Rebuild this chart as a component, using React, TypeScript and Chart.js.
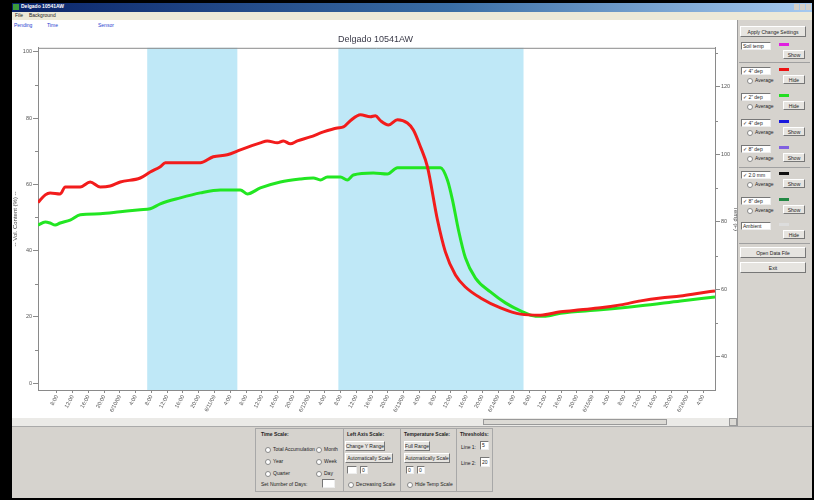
import React, { useEffect, useRef } from "react";
import { Chart, registerables } from "chart.js";
Chart.register(...registerables);
Chart.defaults.font.family = "'Liberation Sans', Arial, sans-serif";

const chartTitle = "Delgado 10541AW";
const leftTitle = "-- Vol. Content (%) --";
const rightTitle = "Temp (F)";

const tickLabels = [
  "8:00", "12:00", "16:00", "20:00", "6/10/09", "4:00", "8:00", "12:00", "16:00", "20:00",
  "6/11/09", "4:00", "8:00", "12:00", "16:00", "20:00", "6/12/09", "4:00", "8:00", "12:00",
  "16:00", "20:00", "6/13/09", "4:00", "8:00", "12:00", "16:00", "20:00", "6/14/09", "4:00",
  "8:00", "12:00", "16:00", "20:00", "6/15/09", "4:00", "8:00", "12:00", "16:00", "20:00",
  "6/16/09", "4:00",
];

const leftTicks = [0, 10, 20, 30, 40, 50, 60, 70, 80, 90, 100];
const rightTicks = [40, 50, 60, 70, 80, 90, 100, 110, 120, 130];

const redX = [-1.2, -0.74, -0.43, 0.21, 0.53, 1.48, 2.11, 2.75, 3.38, 4.02, 5.29, 5.92, 6.56, 6.88, 9.1, 9.92, 10.81, 11.64, 12.91, 13.35, 13.99, 14.37, 14.81, 15.26, 16.08, 16.91, 17.8, 18.18, 18.62, 19.26, 19.89, 20.21, 20.53, 21.04, 21.61, 22.24, 22.62, 23.07, 23.51, 24.15, 24.65, 25.29, 25.92, 26.88, 28.15, 29.42, 30.69, 31.96, 33.22, 34.5, 35.77, 37.04, 38.31, 39.58, 40.84, 41.76];
const redY = [54.5, 56.8, 57.4, 57.1, 59.2, 59.2, 60.7, 59.2, 59.5, 60.7, 61.9, 63.7, 65.3, 66.5, 66.5, 68.3, 68.9, 70.4, 72.5, 73.1, 72.5, 73.1, 72.2, 73.1, 74.3, 75.8, 77.0, 77.3, 79.2, 81.0, 80.4, 80.7, 79.2, 77.9, 79.5, 78.5, 76.4, 71.3, 65.3, 49.2, 39.6, 32.6, 29.0, 25.7, 22.7, 20.8, 20.5, 21.5, 22.1, 22.7, 23.6, 24.8, 25.7, 26.3, 27.2, 27.8];

const greenX = [-1.2, -0.74, -0.43, -0.11, 0.21, 0.84, 1.48, 2.75, 4.02, 5.29, 5.92, 6.56, 7.83, 9.1, 10.37, 11.64, 12.08, 12.91, 14.18, 15.45, 16.27, 16.72, 17.16, 17.99, 18.43, 18.81, 20.08, 20.97, 21.61, 22.24, 24.34, 24.78, 25.1, 25.48, 25.92, 26.56, 27.51, 28.46, 29.42, 30.37, 31.0, 31.96, 34.5, 37.04, 39.58, 41.76];
const greenY = [47.7, 48.6, 48.3, 47.7, 48.3, 49.2, 50.8, 51.1, 51.7, 52.3, 52.6, 54.1, 55.9, 57.4, 58.3, 58.3, 57.1, 58.9, 60.7, 61.6, 61.9, 61.3, 62.2, 62.2, 61.3, 62.8, 63.4, 63.1, 65.0, 65.0, 65.0, 61.3, 55.3, 46.2, 37.8, 31.7, 27.5, 24.2, 21.8, 20.2, 20.2, 21.1, 22.1, 23.3, 24.8, 26.0];

const bandStarts = [5.73, 17.86];
const bandEnds = [11.45, 29.61];

const sensorNames = ['4" dep', '2" dep', '4" dep', '8" dep', "2.0 mm", '8" dep', "Ambient"];
const sensorColors = ["#ee1111", "#22dd22", "#1818dd", "#8060e0", "#111111", "#228844", "#dddddd"];
const sensorButtons = ["Hide", "Hide", "Show", "Show", "Show", "Show", "Hide"];
const sensorTops = [67, 93, 119, 145, 171, 197, 222];

const AXIS = "#8a8a8a";
const UIFONT = "'Liberation Sans', Arial, sans-serif";
const GRAY = "#d6d3ce";

const bandsPlugin = {
  id: "bands",
  beforeDatasetsDraw(chart: any) {
    const { ctx, chartArea, scales } = chart;
    ctx.save();
    ctx.fillStyle = "#bfe8f7";
    bandStarts.forEach((s, i) => {
      const x1 = scales.x.getPixelForValue(s);
      const x2 = scales.x.getPixelForValue(bandEnds[i]);
      ctx.fillRect(x1, chartArea.top, x2 - x1, chartArea.bottom - chartArea.top);
    });
    ctx.restore();
  },
  afterDraw(chart: any) {
    const { ctx, chartArea, scales } = chart;
    ctx.save();
    ctx.strokeStyle = AXIS;
    ctx.lineWidth = 1;
    ctx.beginPath();
    ctx.moveTo(chartArea.left, chartArea.top + 0.5);
    ctx.lineTo(chartArea.right, chartArea.top + 0.5);
    const yl = scales.y;
    yl.ticks.forEach((t: any) => {
      if (t.value % 20 !== 0) {
        const py = Math.round(yl.getPixelForValue(t.value)) + 0.5;
        ctx.moveTo(chartArea.left - 3, py);
        ctx.lineTo(chartArea.left, py);
      }
    });
    const yr = scales.y2;
    yr.ticks.forEach((t: any) => {
      if (t.value % 20 !== 0) {
        const py = Math.round(yr.getPixelForValue(t.value)) + 0.5;
        ctx.moveTo(chartArea.right, py);
        ctx.lineTo(chartArea.right + 3, py);
      }
    });
    ctx.stroke();
    ctx.restore();
  },
};

function Txt(p: { x: number; y: number; t: string; c?: string; s?: number; b?: boolean }) {
  return (
    <div style={{ position: "absolute", left: p.x, top: p.y, fontSize: p.s ?? 5, lineHeight: "7px", color: p.c ?? "#222", fontWeight: p.b ? "bold" : "normal", whiteSpace: "nowrap", fontFamily: UIFONT }}>
      {p.t}
    </div>
  );
}

function Btn(p: { x: number; y: number; w: number; h: number; t: string }) {
  return (
    <div style={{ position: "absolute", left: p.x, top: p.y, width: p.w, height: p.h, boxSizing: "border-box", background: "#e6e4e0", borderTop: "1px solid #fff", borderLeft: "1px solid #fff", borderRight: "1px solid #777", borderBottom: "1px solid #777", fontSize: 5, fontFamily: UIFONT, color: "#222", display: "flex", alignItems: "center", justifyContent: "center", whiteSpace: "nowrap" }}>
      {p.t}
    </div>
  );
}

function TBox(p: { x: number; y: number; w: number; h: number; t?: string }) {
  return (
    <div style={{ position: "absolute", left: p.x, top: p.y, width: p.w, height: p.h, boxSizing: "border-box", background: "#fff", borderTop: "1px solid #777", borderLeft: "1px solid #777", borderRight: "1px solid #eee", borderBottom: "1px solid #eee", fontSize: 5, fontFamily: UIFONT, color: "#222", lineHeight: `${p.h - 2}px`, paddingLeft: 1, whiteSpace: "nowrap", overflow: "hidden" }}>
      {p.t ?? ""}
    </div>
  );
}

function Radio(p: { x: number; y: number; t: string }) {
  return (
    <>
      <div style={{ position: "absolute", left: p.x, top: p.y + 1, width: 4, height: 4, borderRadius: "50%", background: "#fff", border: "1px solid #888" }} />
      <Txt x={p.x + 8} y={p.y} t={p.t} />
    </>
  );
}

function Rect(p: { x: number; y: number; w: number; h: number; bg: string; style?: any }) {
  return <div style={{ position: "absolute", left: p.x, top: p.y, width: p.w, height: p.h, background: p.bg, ...(p.style || {}) }} />;
}

function ChartCanvas() {
  const ref = useRef<HTMLCanvasElement>(null);
  useEffect(() => {
    if (!ref.current) return;
    const chart = new Chart(ref.current, {
      type: "line",
      data: {
        datasets: [
          {
            data: redX.map((x, i) => ({ x, y: redY[i] })),
            borderColor: "#f21c1c",
            borderWidth: 3,
            pointRadius: 0,
            cubicInterpolationMode: "monotone",
            borderJoinStyle: "round",
            yAxisID: "y",
          },
          {
            data: greenX.map((x, i) => ({ x, y: greenY[i] })),
            borderColor: "#22e622",
            borderWidth: 3,
            pointRadius: 0,
            cubicInterpolationMode: "monotone",
            borderJoinStyle: "round",
            yAxisID: "y",
          },
        ],
      },
      options: {
        responsive: false,
        animation: false,
        devicePixelRatio: 1,
        layout: { padding: 0 },
        plugins: {
          legend: { display: false },
          tooltip: { enabled: false },
          title: { display: true, text: chartTitle, color: "#3a3a48", font: { size: 9, weight: "normal" }, padding: { top: 4, bottom: 3 } },
        },
        scales: {
          x: {
            type: "linear",
            min: -1.2,
            max: 41.76,
            afterBuildTicks: (s: any) => {
              s.ticks = tickLabels.map((_, i) => ({ value: i }));
            },
            afterFit: (s: any) => {
              s.height = 32;
            },
            ticks: {
              autoSkip: false,
              maxRotation: 62,
              minRotation: 62,
              padding: 1,
              color: "#555",
              font: { size: 5.5 },
              callback: (_v: any, i: number) => tickLabels[i] ?? "",
            },
            grid: { drawOnChartArea: false, tickLength: 3, color: AXIS },
            border: { color: AXIS },
          },
          y: {
            position: "left",
            min: -2.1,
            max: 101.2,
            afterBuildTicks: (s: any) => {
              s.ticks = leftTicks.map((v) => ({ value: v }));
            },
            afterFit: (s: any) => {
              s.width = 26;
            },
            ticks: {
              padding: 1,
              color: "#555",
              font: { size: 5.5 },
              callback: (v: any) => (v % 20 === 0 ? String(v) : ""),
            },
            grid: {
              drawOnChartArea: false,
              tickLength: 5,
              tickColor: (c: any) => (c.tick && c.tick.value % 20 === 0 ? AXIS : "rgba(0,0,0,0)"),
            },
            border: { color: AXIS },
            title: { display: true, text: leftTitle, color: "#444", font: { size: 6 }, padding: { top: 0, bottom: 0 } },
          },
          y2: {
            position: "right",
            min: 30.2,
            max: 131.6,
            afterBuildTicks: (s: any) => {
              s.ticks = rightTicks.map((v) => ({ value: v }));
            },
            afterFit: (s: any) => {
              s.width = 24;
            },
            ticks: {
              padding: 1,
              color: "#555",
              font: { size: 5.5 },
              callback: (v: any) => (v % 20 === 0 ? String(v) : ""),
            },
            grid: {
              drawOnChartArea: false,
              tickLength: 5,
              tickColor: (c: any) => (c.tick && c.tick.value % 20 === 0 ? AXIS : "rgba(0,0,0,0)"),
            },
            border: { color: AXIS },
            title: { display: true, text: rightTitle, color: "#444", font: { size: 6 }, padding: { top: 0, bottom: 0 } },
          },
        },
      } as any,
      plugins: [bandsPlugin],
    });
    return () => chart.destroy();
  }, []);
  return <canvas ref={ref} width={727} height={392} style={{ position: "absolute", left: 12, top: 30, width: 727, height: 392 }} />;
}

export default function App() {
  return (
    <div style={{ position: "fixed", left: 0, top: 0, width: 814, height: 500, background: "#000", overflow: "hidden", fontFamily: UIFONT }}>
      <Rect x={12} y={3} w={800} h={495} bg={GRAY} />
      <Rect x={12} y={3} w={800} h={9} bg="linear-gradient(to right, #0a246a, #3a6ea5 55%, #a6caf0)" />
      <Rect x={13} y={4} w={6} h={6} bg="#3c9a3c" />
      <Txt x={21} y={3} t="Delgado 10541AW" c="#fff" s={5} b />
      <Rect x={794} y={4} w={5} h={6} bg="#d4d0c8" />
      <Rect x={800} y={4} w={5} h={6} bg="#d4d0c8" />
      <Rect x={806} y={4} w={5} h={6} bg="#d4d0c8" />
      <Rect x={12} y={12} w={800} h={8} bg="#ece9d8" />
      <Txt x={15} y={12} t="File" />
      <Txt x={29} y={12} t="Background" />
      <Rect x={12} y={20} w={725} h={398} bg="#fff" />
      <Txt x={14} y={22} t="Pending" c="#2a3fd0" />
      <Txt x={47} y={22} t="Time" c="#2a3fd0" />
      <Txt x={98} y={22} t="Sensor" c="#2a3fd0" />
      <ChartCanvas />
      <Rect x={12} y={418} w={725} h={8} bg="#ebeae7" />
      <Rect x={483} y={419} w={184} h={6} bg="#dcdad5" style={{ boxSizing: "border-box", border: "1px solid #999" }} />
      <Rect x={729} y={418} w={8} h={8} bg="#dcdad5" style={{ boxSizing: "border-box", border: "1px solid #999" }} />
      <Rect x={737} y={20} w={75} h={406} bg={GRAY} style={{ boxSizing: "border-box", borderLeft: "1px solid #999" }} />
      <Btn x={740} y={26} w={66} h={11} t="Apply Change Settings" />
      <TBox x={741} y={42} w={30} h={8} t="Soil temp" />
      <Rect x={779} y={43} w={10} h={3} bg="#e020e0" />
      <Btn x={783} y={50} w={22} h={9} t="Show" />
      <Rect x={739} y={62} w={71} h={1} bg="#a0a0a0" />
      {sensorTops.map((top, i) => (
        <React.Fragment key={i}>
          <TBox x={741} y={top} w={30} h={8} t={(i < 6 ? "\u2713 " : "") + sensorNames[i]} />
          <Rect x={779} y={top + 1} w={10} h={3} bg={sensorColors[i]} />
          {i < 6 ? <Radio x={747} y={top + 10} t="Average" /> : null}
          <Btn x={783} y={top + 8} w={22} h={9} t={sensorButtons[i]} />
        </React.Fragment>
      ))}
      <Rect x={739} y={167} w={71} h={1} bg="#a0a0a0" />
      <Rect x={739} y={243} w={71} h={1} bg="#a0a0a0" />
      <Btn x={740} y={247} w={66} h={11} t="Open Data File" />
      <Btn x={740} y={262} w={66} h={11} t="Exit" />
      <Rect x={12} y={426} w={800} h={72} bg={GRAY} style={{ boxSizing: "border-box", borderTop: "1px solid #aaa" }} />
      <Rect x={255} y={428} w={238} h={64} bg={GRAY} style={{ boxSizing: "border-box", border: "1px solid #a8a8a8" }} />
      <Rect x={343} y={428} w={1} h={64} bg="#a8a8a8" />
      <Rect x={400} y={428} w={1} h={64} bg="#a8a8a8" />
      <Rect x={456} y={428} w={1} h={64} bg="#a8a8a8" />
      <Txt x={261} y={431} t="Time Scale:" b />
      <Radio x={265} y={446} t="Total Accumulation" />
      <Radio x={316} y={446} t="Month" />
      <Radio x={265} y={458} t="Year" />
      <Radio x={316} y={458} t="Week" />
      <Radio x={265} y={470} t="Quarter" />
      <Radio x={316} y={470} t="Day" />
      <Txt x={261} y={481} t="Set Number of Days:" />
      <TBox x={322} y={479} w={13} h={9} />
      <Txt x={347} y={431} t="Left Axis Scale:" b />
      <Btn x={345} y={441} w={40} h={10} t="Change Y Range" />
      <Btn x={345} y={453} w={48} h={10} t="Automatically Scale" />
      <TBox x={347} y={466} w={10} h={8} />
      <TBox x={360} y={466} w={8} h={8} t="0" />
      <Radio x={348} y={481} t="Decreasing Scale" />
      <Txt x={404} y={431} t="Temperature Scale:" b />
      <Btn x={404} y={441} w={26} h={10} t="Full Range" />
      <Btn x={404} y={453} w={46} h={10} t="Automatically Scale" />
      <TBox x={406} y={466} w={8} h={8} t="0" />
      <TBox x={417} y={466} w={8} h={8} t="0" />
      <Radio x={407} y={481} t="Hide Temp Scale" />
      <Txt x={460} y={431} t="Thresholds:" b />
      <Txt x={461} y={444} t="Line 1:" />
      <TBox x={480} y={441} w={9} h={9} t="5" />
      <Txt x={461} y={460} t="Line 2:" />
      <TBox x={480} y={457} w={10} h={10} t="20" />
    </div>
  );
}
